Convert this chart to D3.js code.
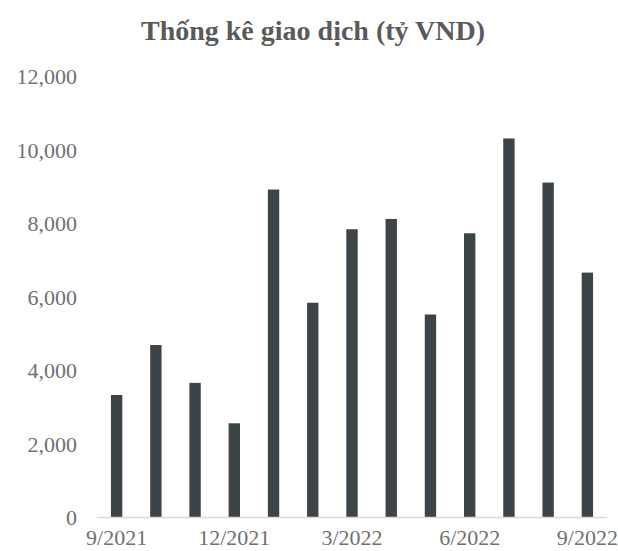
<!DOCTYPE html>
<html>
<head>
<meta charset="utf-8">
<script src="https://cdn.jsdelivr.net/npm/d3@7"></script>
<style>
  body { margin: 0; background: #fff; }
  svg { display: block; }
  .tick-label { font-family: "Liberation Serif", "DejaVu Serif", serif; font-size: 22px; fill: #707070; }
  .title { font-family: "Liberation Serif", "DejaVu Serif", serif; font-size: 28px; font-weight: bold; fill: #5a5a5a; }
</style>
</head>
<body>
<svg id="chart" width="618" height="551"></svg>
<script>
// Monthly values, 9/2021 .. 9/2022 (ty VND)
const months = ["9/2021", "10/2021", "11/2021", "12/2021", "1/2022", "2/2022", "3/2022",
                "4/2022", "5/2022", "6/2022", "7/2022", "8/2022", "9/2022"];
const values = [3320, 4680, 3650, 2550, 8910, 5830, 7830, 8110, 5510, 7720, 10300, 9100, 6650];
const shownLabels = ["9/2021", "12/2021", "3/2022", "6/2022", "9/2022"];
const yTicks = [0, 2000, 4000, 6000, 8000, 10000, 12000];
const title = "Thống kê giao dịch (tỷ VND)";

const Fig = d3.select("#chart");

// x band scale over the months
const xScale = d3.scaleBand()
    .domain(months)
    .range([97, 607])
    .paddingInner(0.71)
    .paddingOuter(0.355);

// y linear scale
const yScale = d3.scaleLinear()
    .domain([0, 12000])
    .range([517, 76]);

// Bars
Fig.selectAll(".bar")
    .data(values)
    .join("rect")
    .attr("class", "bar")
    .attr("x", (d, i) => xScale(months[i]))
    .attr("y", d => yScale(d))
    .attr("width", xScale.bandwidth())
    .attr("height", d => yScale(0) - yScale(d))
    .attr("fill", "#3d4448");

// Baseline
Fig.append("line")
    .attr("x1", 97)
    .attr("x2", 607)
    .attr("y1", yScale(0) + 0.5)
    .attr("y2", yScale(0) + 0.5)
    .attr("stroke", "#d6dadd")
    .attr("stroke-width", 1.5);

// Y tick labels (no axis line)
const y_axis = d3.axisLeft(yScale)
    .tickValues(yTicks)
    .tickFormat(d3.format(","))
    .tickSize(0)
    .tickPadding(0);

const yg = Fig.append("g")
    .attr("transform", `translate(${77},${0})`)
    .call(y_axis);
yg.select(".domain").remove();
yg.selectAll("text").attr("class", "tick-label").attr("fill", null).attr("dy", "0.35em");

// X tick labels, every third month
const x_axis = d3.axisBottom(xScale)
    .tickValues(shownLabels)
    .tickSize(0)
    .tickPadding(0);

const xg = Fig.append("g")
    .attr("transform", `translate(${0},${545})`)
    .call(x_axis);
xg.select(".domain").remove();
xg.selectAll("text").attr("class", "tick-label").attr("fill", null).attr("y", 0).attr("dy", 0);

// Title
Fig.append("text")
    .attr("x", 313)
    .attr("y", 40)
    .attr("text-anchor", "middle")
    .attr("class", "title")
    .text(title);
</script>
</body>
</html>
